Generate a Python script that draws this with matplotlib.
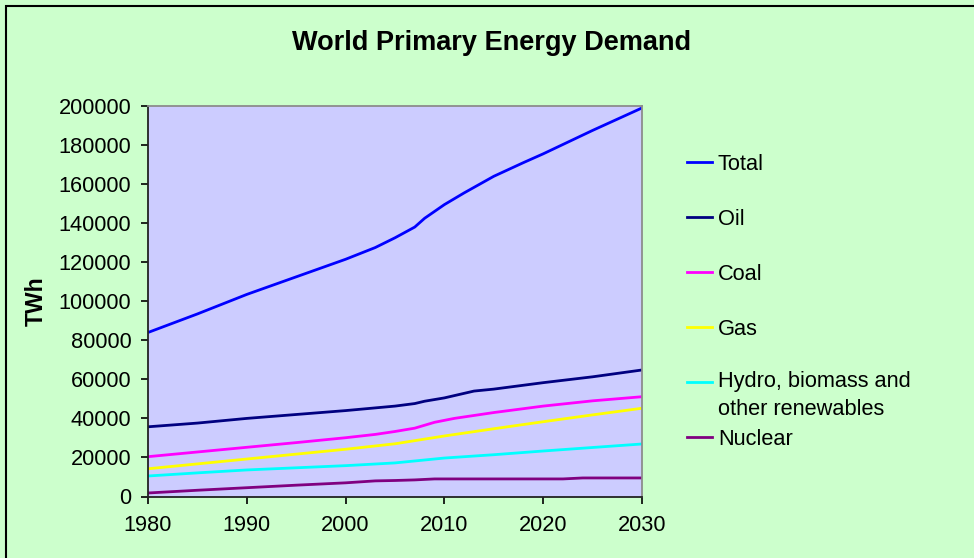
import matplotlib
matplotlib.use("Agg")
import matplotlib.pyplot as plt
from matplotlib.lines import Line2D
from matplotlib.patches import Rectangle

plt.rcParams['font.family'] = ['Liberation Sans', 'DejaVu Sans']

# Demand by source, TWh
years_total = [1980, 1985, 1990, 1995, 2000, 2003, 2005, 2007, 2008, 2010, 2012, 2015, 2018, 2020, 2025, 2030]
total = [84000, 93500, 103500, 112500, 121500, 127500, 132500, 138000, 142500, 149500, 155500, 164000, 171000, 175500, 187500, 199000]

years_oil = [1980, 1985, 1990, 1995, 2000, 2005, 2007, 2008, 2010, 2013, 2015, 2020, 2025, 2030]
oil = [35700, 37600, 40000, 42000, 44000, 46300, 47600, 48800, 50500, 54000, 55000, 58300, 61300, 64800]

years_coal = [1980, 1985, 1990, 1995, 2000, 2003, 2005, 2007, 2009, 2011, 2015, 2020, 2025, 2030]
coal = [20400, 22800, 25200, 27600, 30100, 31800, 33300, 35000, 38000, 40000, 43000, 46300, 49000, 51100]

years_gas = [1980, 1985, 1990, 1995, 2000, 2005, 2010, 2015, 2020, 2025, 2030]
gas = [14200, 16700, 19200, 21700, 24200, 27000, 31000, 34700, 38300, 41800, 45200]

years_hydro = [1980, 1985, 1990, 1995, 2000, 2005, 2010, 2015, 2020, 2025, 2030]
hydro = [10500, 12100, 13600, 14700, 15800, 17200, 19700, 21400, 23300, 25100, 26900]

years_nuclear = [1980, 1985, 1990, 1995, 2000, 2003, 2005, 2007, 2009, 2022, 2024, 2030]
nuclear = [1800, 3200, 4500, 5800, 7000, 8000, 8200, 8500, 9000, 9000, 9500, 9500]

series_names = ["Total", "Oil", "Coal", "Gas", "Hydro, biomass and\nother renewables", "Nuclear"]
series_colors = ["#0000FF", "#000080", "#FF00FF", "#FFFF00", "#00FFFF", "#800080"]
series_data = [
    (years_total, total),
    (years_oil, oil),
    (years_coal, coal),
    (years_gas, gas),
    (years_hydro, hydro),
    (years_nuclear, nuclear),
]

y_ticks = list(range(0, 200001, 20000))
x_ticks = [1980, 1990, 2000, 2010, 2020, 2030]

W, H = 974, 558
fig = plt.figure(figsize=(W / 100, H / 100), dpi=100)
fig.patch.set_facecolor("#CCFFCC")

# outer chart frame
fig.add_artist(Rectangle((6 / W, -0.01), 1.02, 1 - 6 / H + 0.01, transform=fig.transFigure,
                         fill=False, edgecolor="#000000", linewidth=1.5))

left, right, top, bottom = 148, 642, 106, 496.5
ax = fig.add_axes([left / W, 1 - bottom / H, (right - left) / W, (bottom - top) / H])
ax.set_facecolor("#CCCCFF")

for (xs, ys), c in zip(series_data, series_colors):
    ax.plot(xs, ys, color=c, linewidth=2, solid_capstyle="butt")

ax.set_xlim(1980, 2030)
ax.set_ylim(0, 200000)
ax.set_xticks(x_ticks)
ax.set_yticks(y_ticks)
ax.set_xticklabels([str(t) for t in x_ticks])
ax.set_yticklabels([str(t) for t in y_ticks])
ax.tick_params(axis="both", direction="out", length=5, width=1.2, labelsize=15.7, colors="#000000")
ax.tick_params(axis="x", pad=8)
ax.tick_params(axis="y", pad=7)

for side in ["left", "bottom"]:
    ax.spines[side].set_color("#222222")
    ax.spines[side].set_linewidth(1.3)
for side in ["top", "right"]:
    ax.spines[side].set_color("#8C8C8C")
    ax.spines[side].set_linewidth(1.3)

ax.set_ylabel("TWh", fontsize=16.5, fontweight="bold")
ax.yaxis.set_label_coords(-(left - 48) / (right - left), 0.5)

fig.text(492 / W, 1 - 43 / H, "World Primary Energy Demand", ha="center", va="center",
         fontsize=19.5, fontweight="bold")

# legend entries on the right
legend_rows = [162, 217, 272, 327, 382, 437]
for name, c, yy in zip(series_names, series_colors, legend_rows):
    fy = 1 - yy / H
    fig.add_artist(Line2D([687 / W, 712 / W], [fy, fy], transform=fig.transFigure,
                          color=c, linewidth=2))
    if "\n" in name:
        fig.text(718 / W, 1 - (yy - 11) / H, name, ha="left", va="top",
                 fontsize=15.7, linespacing=1.45)
    else:
        fig.text(718 / W, fy, name, ha="left", va="center_baseline", fontsize=15.7)

fig.savefig("out.png", dpi=100, facecolor=fig.get_facecolor())
